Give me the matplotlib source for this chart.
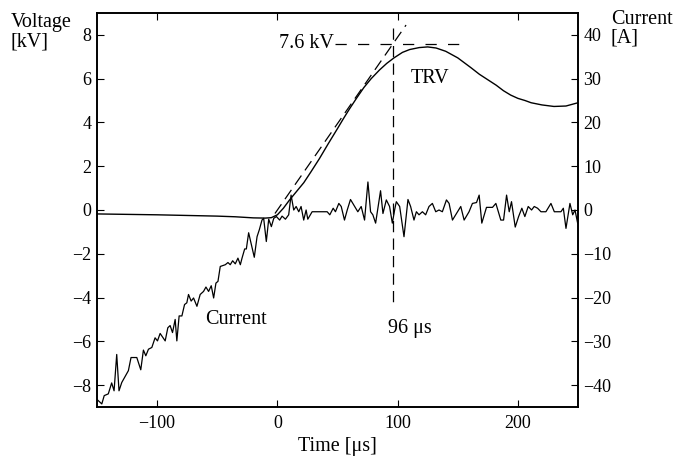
import matplotlib.pyplot as plt

plt.rcParams['font.family'] = ['Liberation Serif', 'DejaVu Serif']
plt.rcParams['font.size'] = 13

# TRV voltage (kV) vs time (us)
volt_t = [-150, -125, -100, -75, -50, -35, -20, -10, -5, 0, 5, 10, 16, 22, 28, 35, 42, 50,
          55, 60, 66, 72, 78, 85, 91, 97, 104, 110, 118, 125, 132, 140, 150, 161, 168, 175,
          182, 188, 194, 200, 206, 211, 220, 230, 240, 250]
volt_v = [-0.18, -0.2, -0.22, -0.25, -0.28, -0.31, -0.36, -0.37, -0.35, -0.22, 0.08, 0.45,
          0.85, 1.25, 1.75, 2.35, 3.0, 3.72, 4.18, 4.62, 5.12, 5.6, 6.0, 6.4, 6.7, 6.95, 7.2,
          7.33, 7.42, 7.45, 7.4, 7.25, 6.95, 6.5, 6.2, 5.95, 5.7, 5.45, 5.25, 5.1, 5.0, 4.9,
          4.8, 4.73, 4.75, 4.9]

# measured current (A) vs time (us)
curr_t = [-150.3, -146, -144, -140.6, -137.8, -135.8, -133.6, -131.7, -129.4, -123.9, -121.7,
          -116.9, -113.6, -111.4, -109.4, -107.2, -104.4, -101.7, -99.7, -97.5, -93.3, -91.1,
          -89.2, -87.2, -85, -83.6, -81.7, -79.4, -77.2, -75.3, -73.9, -71.7, -69.7, -66.9,
          -64.2, -61.4, -59.4, -57.2, -55, -53, -51.1, -49.4, -47.5, -43.3, -41.1, -39.2,
          -37.2, -35, -32.8, -30.8, -29.4, -27.2, -25.8, -23.9, -21.9, -19.2, -16.9, -15,
          -12.8, -11.4, -9.2, -7.2, -5, -3, -0.8, 1.9, 3.9, 6.7, 9.4, 11.4, 13.6, 15.6, 17.8,
          19.7, 21.9, 23.9, 25.3, 28.9, 41.4, 43.6, 46.4, 48.3, 51.1, 53.1, 55.8, 58.1, 60.8,
          63.6, 66.9, 69.7, 72.5, 75.3, 77.5, 79.4, 81.7, 85.8, 87.8, 90.6, 93.3, 95.6, 97.5,
          98.9, 101.7, 105.3, 108.6, 110.8, 113.6, 115.6, 117.8, 120.6, 123.3, 126.1, 128.9,
          131.7, 134.4, 137.2, 140.6, 142.8, 145.6, 148.3, 152.5, 155.3, 159.4, 162.2, 165.6,
          167.8, 170, 173.9, 178.9, 181.7, 185.8, 188.1, 190.6, 192.8, 194.7, 197.8, 200.6,
          203.3, 205.8, 208.6, 211.4, 213.6, 216.4, 219.2, 223.3, 227.5, 230.3, 235.8, 237.8,
          240, 243.3, 245.6, 247.5, 249.7]
curr_a = [-43.2, -44.3, -42.4, -42, -39.5, -41.3, -33, -41.3, -39.4, -36.7, -33.7, -33.7,
          -36.5, -32, -33.3, -31.8, -31.4, -29.2, -29.9, -28.2, -29.9, -26.9, -26.4, -28, -25,
          -29.9, -24.2, -24.2, -21.6, -21.2, -19.3, -20.8, -20.1, -22, -19.3, -18.6, -17.6,
          -18.6, -17.3, -20.1, -16.7, -16.3, -12.9, -12.5, -12, -12.5, -11.6, -12.3, -11,
          -12.5, -11, -8.9, -8.9, -5.2, -7.6, -10.8, -6.1, -4.5, -2.3, -1.9, -7.2, -2.1, -3.8,
          -1.9, -1.5, -2.3, -1.4, -2.1, -1.1, 3.4, 0, 0.8, -0.4, 0.8, -2.3, 0, -2.1, -0.4, -0.4,
          -1.1, 0.4, -0.4, 1.5, 0.8, -2.3, 0, 2.4, 1.1, -0.4, 0.8, -2.3, 6.4, -0.4, -1.1, -3,
          4.4, -0.8, 2.3, 0.8, -3, 0, 1.9, 0.8, -6.1, 2.4, 0.8, -2.3, -0.4, -1.1, -0.4, -1.1,
          0.8, 1.5, -0.4, 0, -0.4, 2.3, 1.5, -2.3, -1.1, 0.8, -2.3, -0.4, 1.5, 1.7, 3.4, -3,
          0.6, 0.6, 1.5, -2.3, -2.3, 3.4, -0.4, 1.9, -3.9, -1.5, 0.4, -1.5, 0.8, 0, 0.8, 0.4,
          -0.4, -0.4, 1.5, -0.4, -0.4, 0.4, -4.2, 1.5, -1.1, 0, -3]

tangent_t = [-2, 107]
tangent_v = [-0.16, 8.45]
peak_t = [48, 151]
peak_v = [7.6, 7.6]
mark_t = [96, 96]
mark_v = [8.3, -4.4]

fig = plt.figure(figsize=(6.75, 4.59), dpi=100)
ax = fig.add_axes([0.1437, 0.1133, 0.7126, 0.8584])
ax2 = ax.twinx()

ax.plot(volt_t, volt_v, color='black', lw=1.0)
ax2.plot(curr_t, curr_a, color='black', lw=0.9)
ax.plot(tangent_t, tangent_v, color='black', lw=0.9, linestyle=(0, (9, 5)))
ax.plot(peak_t, peak_v, color='black', lw=0.9, linestyle=(0, (9, 9)))
ax.plot(mark_t, mark_v, color='black', lw=0.9, linestyle=(0, (9, 5)))

ax.set_xlim(-150, 250)
ax.set_ylim(-9, 9)
ax2.set_ylim(-45, 45)
ax.set_xticks([-100, 0, 100, 200])
ax.set_xticklabels(['\u2212100', '0', '100', '200'])
ax.set_yticks(range(-8, 9, 2))
ax.set_yticklabels([str(v).replace('-', '\u2212') for v in range(-8, 9, 2)])
ax2.set_yticks(range(-40, 41, 10))
ax2.set_yticklabels([str(v).replace('-', '\u2212') for v in range(-40, 41, 10)])

ax.tick_params(axis='x', direction='in', top=True, length=5, pad=6)
ax.tick_params(axis='y', direction='in', length=5, pad=4)
ax2.tick_params(axis='y', direction='in', length=5, pad=4)
for a in (ax, ax2):
    for s in a.spines.values():
        s.set_linewidth(1.2)

lab = 14.5
ax.text(47, 7.6, '7.6 kV', ha='right', va='center', fontsize=lab)
ax.text(111, 6.0, 'TRV', ha='left', va='center', fontsize=lab)
ax.text(92, -5.4, '96 \u03bcs', ha='left', va='center', fontsize=lab)
ax.text(-60, -5.0, 'Current', ha='left', va='center', fontsize=lab)

fig.text(11 / 675, 1 - 13 / 459, 'Voltage\n[kV]', ha='left', va='top', linespacing=1.0, fontsize=lab)
fig.text(611 / 675, 1 - 10 / 459, 'Current\n[A]', ha='left', va='top', linespacing=1.0, fontsize=lab)
fig.text(337 / 675, 1 - 447 / 459, 'Time [\u03bcs]', ha='center', va='center', fontsize=lab)

fig.savefig('out.png', dpi=100)
